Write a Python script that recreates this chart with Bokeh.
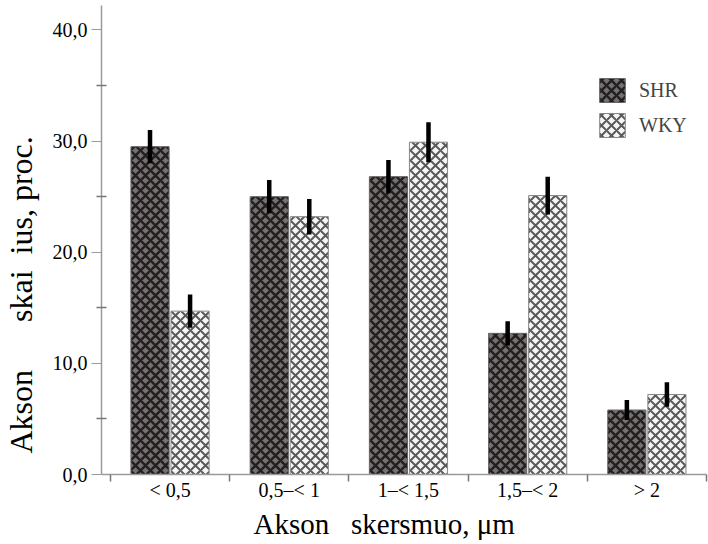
from bokeh.plotting import figure
from bokeh.models import ColumnDataSource, FixedTicker, Legend, LegendItem, Title
from bokeh.transform import dodge
from bokeh.embed import file_html
from bokeh.resources import INLINE

categories = ["< 0,5", "0,5\u2013< 1", "1\u2013< 1,5", "1,5\u2013< 2", "> 2"]
shr_values = [29.5, 25.0, 26.8, 12.7, 5.8]
shr_errors = [1.5, 1.5, 1.5, 1.1, 0.9]
wky_values = [14.7, 23.2, 29.9, 25.1, 7.2]
wky_errors = [1.5, 1.6, 1.8, 1.7, 1.1]
y_ticks = [0, 10, 20, 30, 40]
y_tick_labels = ["0,0", "10,0", "20,0", "30,0", "40,0"]
y_title = "Akson\u00a0\u00a0\u00a0\u00a0\u00a0\u00a0skai\u00a0\u00a0ius, proc."
x_title = "Akson\u00a0\u00a0\u00a0skersmuo, \u03bcm"

xc = [i + 0.5 for i in range(len(categories))]
src = ColumnDataSource(dict(
    x=xc,
    shr=shr_values, shr_lo=[v - e for v, e in zip(shr_values, shr_errors)],
    shr_hi=[v + e for v, e in zip(shr_values, shr_errors)],
    wky=wky_values, wky_lo=[v - e for v, e in zip(wky_values, wky_errors)],
    wky_hi=[v + e for v, e in zip(wky_values, wky_errors)],
))

p = figure(width=708, height=544, x_range=(-0.075, 5.0), y_range=(0, 42.2),
           output_backend="svg", toolbar_location=None,
           min_border_left=101, min_border_right=2, min_border_top=5, min_border_bottom=70)
p.outline_line_color = None
p.xgrid.visible = False
p.ygrid.visible = False
p.background_fill_color = "white"

off = 0.168
bw = 0.32
r_shr = p.vbar(x=dodge("x", -off), top="shr", bottom=0, width=bw, source=src,
               fill_color="#787070", line_color="#666666", line_width=1,
               hatch_pattern="diagonal_cross", hatch_color="#202020",
               hatch_weight=2.5, hatch_scale=10)
r_wky = p.vbar(x=dodge("x", off), top="wky", bottom=0, width=bw, source=src,
               fill_color="#f6f6f6", line_color="#888888", line_width=1,
               hatch_pattern="diagonal_cross", hatch_color="#5a5a5a",
               hatch_weight=2, hatch_scale=10)

p.segment(x0=dodge("x", -off), x1=dodge("x", -off), y0="shr_lo", y1="shr_hi",
          source=src, line_color="black", line_width=4.5)
p.segment(x0=dodge("x", off), x1=dodge("x", off), y0="wky_lo", y1="wky_hi",
          source=src, line_color="black", line_width=4.5)

font = "Liberation Serif"

# y axis
yax = p.yaxis[0]
yax.ticker = FixedTicker(ticks=y_ticks, minor_ticks=[5, 15, 25, 35])
yax.major_label_overrides = {t: l for t, l in zip(y_ticks, y_tick_labels)}
yax.axis_line_color = "#9a9a9a"
yax.axis_line_width = 1.5
yax.major_tick_line_color = "#9a9a9a"
yax.minor_tick_line_color = "#777777"
yax.major_tick_out = 10
yax.major_tick_in = 0
yax.minor_tick_out = 5
yax.minor_tick_in = 5
yax.minor_tick_line_width = 1.5
yax.major_label_text_font = font
yax.major_label_text_font_size = "20px"
yax.major_label_text_color = "black"
yax.major_label_standoff = 4
# invisible spacer label: pushes the side title a little further left
yax.axis_label = "\u00a0"
yax.axis_label_text_font_size = "2px"
yax.axis_label_standoff = 6

# x axis
xax = p.xaxis[0]
xax.ticker = FixedTicker(ticks=xc, minor_ticks=[0, 1, 2, 3, 4, 5])
xax.major_label_overrides = {x: c for x, c in zip(xc, categories)}
xax.axis_line_color = "#9a9a9a"
xax.axis_line_width = 1.5
xax.major_tick_out = 0
xax.major_tick_in = 0
xax.minor_tick_out = 7
xax.minor_tick_in = 0
xax.minor_tick_line_color = "#777777"
xax.minor_tick_line_width = 1.5
xax.major_label_text_font = font
xax.major_label_text_font_size = "20px"
xax.major_label_text_color = "black"
xax.major_label_standoff = -3

# axis titles as side-panel titles (left-aligned with an offset)
p.add_layout(Title(text=y_title, align="left", offset=21, text_font=font,
                   text_font_size="32px", text_font_style="normal",
                   text_color="black", standoff=0), "left")
p.add_layout(Title(text=x_title, align="left", offset=152, text_font=font,
                   text_font_size="29px", text_font_style="normal",
                   text_color="black", standoff=4), "below")

legend = Legend(items=[LegendItem(label="SHR", renderers=[r_shr]),
                       LegendItem(label="WKY", renderers=[r_wky])],
                location=(495, 334), padding=0, margin=0, spacing=5,
                glyph_width=32, glyph_height=30, label_standoff=11,
                border_line_color=None, background_fill_alpha=0,
                label_text_font=font, label_text_font_size="20px")
p.add_layout(legend)

open("out.html", "w").write(file_html(p, INLINE))
